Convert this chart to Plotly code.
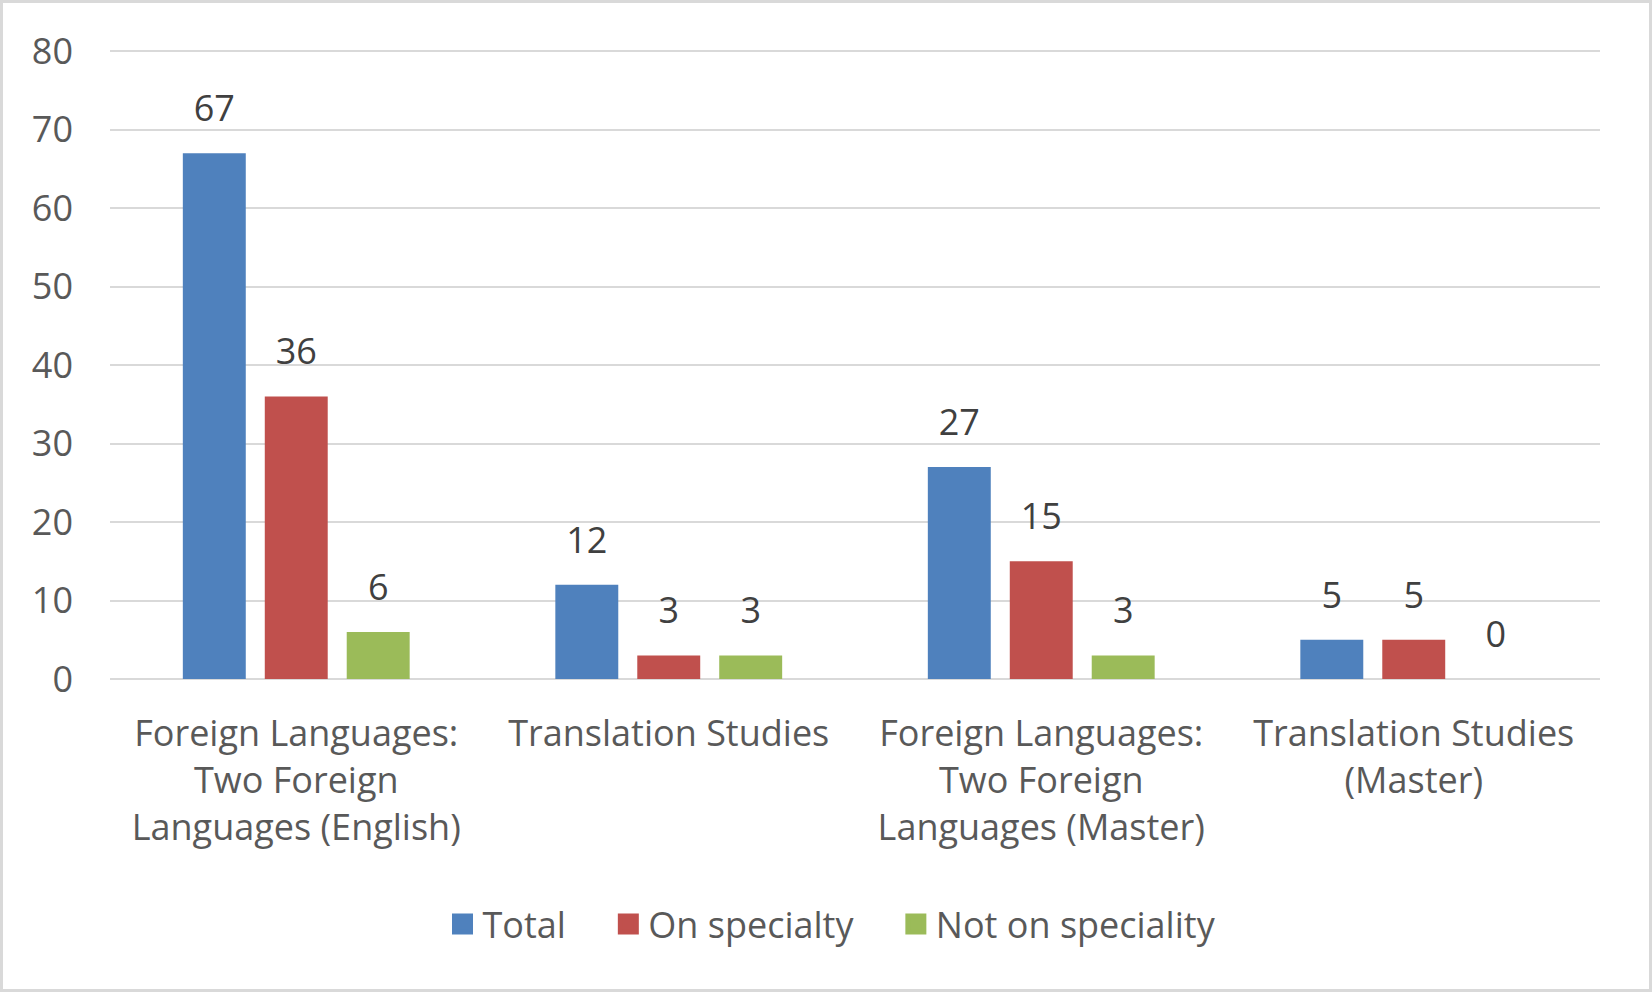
import plotly.graph_objects as go

categories = [
    "Foreign Languages:<br>Two Foreign<br>Languages (English)",
    "Translation Studies",
    "Foreign Languages:<br>Two Foreign<br>Languages (Master)",
    "Translation Studies<br>(Master)",
]
series_names = ["Total", "On specialty", "Not on speciality"]
total = [67, 12, 27, 5]
on_specialty = [36, 3, 15, 5]
not_on_speciality = [6, 3, 3, 0]
y_ticks = [0, 10, 20, 30, 40, 50, 60, 70, 80]

colors = ["#4F81BD", "#C0504D", "#9BBB59"]
values = [total, on_specialty, not_on_speciality]

W, H = 1652, 992
ML, MR, MT, MB = 110, 52, 48, 313
plot_w = W - ML - MR
plot_h = H - MT - MB
YMAX = 80.4
label_lift_px = 18
lift = label_lift_px * YMAX / plot_h

FONT = "Open Sans"
FS = 36
PAD = "\u00a0" * 4
fig = go.Figure()
for name, vals, col in zip(series_names, values, colors):
    fig.add_trace(go.Bar(x=categories, y=vals, name=name, marker_color=col,
                         marker_line_width=0, showlegend=False, yaxis="y"))
for name, vals, col in zip(series_names, values, colors):
    fig.add_trace(go.Bar(x=categories, y=vals, name=name, marker_color="rgba(0,0,0,0)",
                         marker_line_width=0, showlegend=False, yaxis="y2",
                         text=[str(v) for v in vals], textposition="outside",
                         cliponaxis=False,
                         textfont=dict(family=FONT, size=FS, color="#404040"),
                         hoverinfo="skip"))
for i, (name, col) in enumerate(zip(series_names, colors)):
    fig.add_trace(go.Scatter(x=[None], y=[None], mode="markers",
                             name=name + (PAD if i < len(series_names) - 1 else ""),
                             marker=dict(symbol="square", size=16, color=col,
                                         line=dict(color=col, width=7)),
                             showlegend=True))

fig.update_layout(
    width=W, height=H,
    margin=dict(l=ML, r=MR, t=MT, b=MB),
    paper_bgcolor="white", plot_bgcolor="white",
    barmode="group", bargap=0.34, bargroupgap=0.232,
    font=dict(family=FONT, size=FS, color="#595959"),
    xaxis=dict(showgrid=False, showline=False, ticks="", ticklabelstandoff=30,
               tickfont=dict(family=FONT, size=FS, color="#595959")),
    yaxis=dict(range=[0, YMAX], tickvals=y_ticks, showgrid=True, gridcolor="#D9D9D9",
               gridwidth=2, zeroline=True, zerolinecolor="#D9D9D9", zerolinewidth=2,
               showline=False, ticks="", ticklabelstandoff=36,
               tickfont=dict(family=FONT, size=FS, color="#595959")),
    yaxis2=dict(range=[-lift, YMAX - lift], overlaying="y", visible=False),
    legend=dict(orientation="h", x=0.5 - 23 / plot_w, xanchor="center",
                y=-(924 - MT - plot_h) / plot_h, yanchor="middle",
                font=dict(family=FONT, size=FS, color="#595959"),
                itemwidth=30, traceorder="normal"),
    shapes=[dict(type="rect", xref="paper", yref="paper",
                 x0=-(ML - 1.5) / plot_w, x1=1 + (MR - 1.5) / plot_w,
                 y0=-(MB - 1.5) / plot_h, y1=1 + (MT - 1.5) / plot_h,
                 line=dict(color="#D9D9D9", width=3), layer="below")],
)

fig.write_html("out.html", config={"displayModeBar": False},
               post_script="document.body.style.margin='0';document.body.style.overflow='hidden';")
